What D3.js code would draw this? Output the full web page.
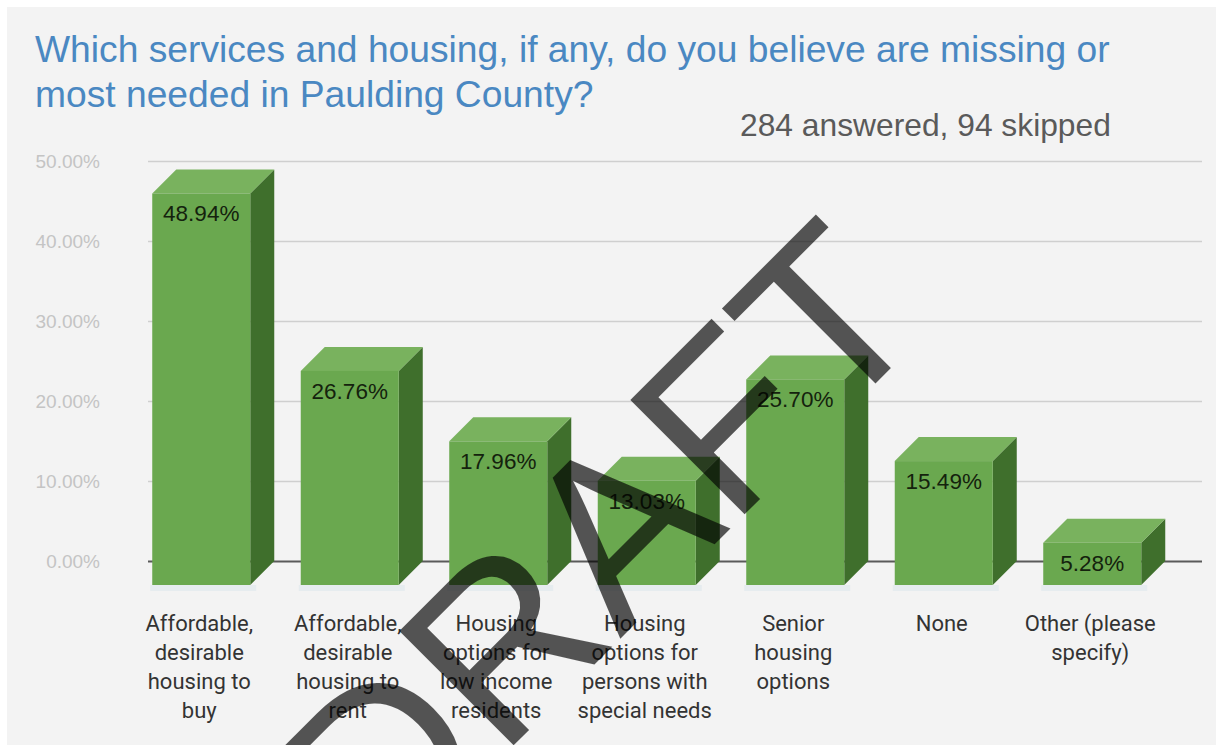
<!DOCTYPE html>
<html>
<head>
<meta charset="utf-8">
<script src="https://cdn.jsdelivr.net/npm/d3@7"></script>
<style>
  html, body { margin: 0; padding: 0; background: #ffffff; }
  svg { display: block; }
</style>
</head>
<body>
<svg id="chart" width="1216" height="745"></svg>
<script>
// ---- data ----
const categories = [
  "Affordable,\ndesirable\nhousing to\nbuy",
  "Affordable,\ndesirable\nhousing to\nrent",
  "Housing\noptions for\nlow income\nresidents",
  "Housing\noptions for\npersons with\nspecial needs",
  "Senior\nhousing\noptions",
  "None",
  "Other (please\nspecify)"
];
const values = [48.94, 26.76, 17.96, 13.03, 25.70, 15.49, 5.28];
const yTicks = [0, 10, 20, 30, 40, 50];
const titleLines = [
  "Which services and housing, if any, do you believe are missing or",
  "most needed in Paulding County?"
];
const subtitle = "284 answered, 94 skipped";
const watermark = "DRAFT";

// ---- layout ----
const svg = d3.select("#chart");
const W = 1216, H = 745;
const depthX = 24, depthY = 24;

svg.append("rect").attr("x", 0).attr("y", 0).attr("width", W).attr("height", H).attr("fill", "#ffffff");
svg.append("rect").attr("x", 7).attr("y", 7).attr("width", W - 7).attr("height", H - 7).attr("fill", "#f3f3f3");

const x = d3.scaleBand().domain(d3.range(categories.length))
  .range([151, 1190.5]).paddingInner(0.34).paddingOuter(0.17);
const y = d3.scaleLinear().domain([0, 50]).range([561, 161]);

// gridlines
const grid = svg.append("g").attr("transform", "translate(148,0)")
  .call(d3.axisLeft(y).tickValues(yTicks).tickSize(-(1202 - 148)).tickFormat(""));
grid.select(".domain").remove();
grid.selectAll(".tick line")
  .attr("stroke", d => d === 0 ? "#5a5a5a" : "#cfcfcf")
  .attr("stroke-width", d => d === 0 ? 2 : 1.5);

// y labels
const yAxis = svg.append("g").attr("transform", "translate(100,0)")
  .call(d3.axisLeft(y).tickValues(yTicks).tickSize(0).tickPadding(0).tickFormat(d => d.toFixed(2) + "%"));
yAxis.select(".domain").remove();
yAxis.selectAll("text")
  .attr("font-family", "'Liberation Sans', Arial, sans-serif")
  .attr("font-size", 19)
  .attr("fill", "#c4c4c4");

// bars
const bars = svg.append("g");
values.forEach((v, i) => {
  const bx = x(i), bw = x.bandwidth();
  const top = y(v), base = y(0);
  const fx = bx - depthX;
  // shadow
  bars.append("rect").attr("x", fx - 2).attr("y", base + depthY).attr("width", bw + 8).attr("height", 6)
    .attr("fill", "#e6ecef");
  // side face
  bars.append("path")
    .attr("d", `M${fx + bw},${top + depthY} L${bx + bw},${top} L${bx + bw},${base} L${fx + bw},${base + depthY} Z`)
    .attr("fill", "#3f6f2c");
  // top face
  bars.append("path")
    .attr("d", `M${fx},${top + depthY} L${bx},${top} L${bx + bw},${top} L${fx + bw},${top + depthY} Z`)
    .attr("fill", "#79b25e");
  // front face
  bars.append("rect").attr("x", fx).attr("y", top + depthY).attr("width", bw).attr("height", base - top)
    .attr("fill", "#6aa84f");
  // value label
  bars.append("text")
    .attr("x", fx + bw / 2).attr("y", top + depthY + 28)
    .attr("text-anchor", "middle")
    .attr("font-family", "'Liberation Sans', Arial, sans-serif")
    .attr("font-size", 22.5)
    .attr("fill", "#14220d")
    .text(v.toFixed(2) + "%");
  // category label
  const t = svg.append("text")
    .attr("text-anchor", "middle")
    .attr("font-family", "Roboto, 'Noto Sans', sans-serif")
    .attr("font-size", 22)
    .attr("fill", "#333333");
  categories[i].split("\n").forEach((ln, k) => {
    t.append("tspan").attr("x", fx + bw / 2 - 2).attr("y", 631 + k * 29).text(ln);
  });
});

// title
function fitText(sel, target) {
  const fs = +sel.attr("font-size");
  const len = sel.node().getComputedTextLength();
  sel.attr("font-size", fs * target / len);
}
const t1 = svg.append("text").attr("x", 35).attr("y", 62)
  .attr("font-family", "'Liberation Sans', Arial, sans-serif").attr("font-size", 29)
  .attr("fill", "#4a88c2").text(titleLines[0]);
fitText(t1, 1075);
const t2 = svg.append("text").attr("x", 35).attr("y", 107)
  .attr("font-family", "'Liberation Sans', Arial, sans-serif").attr("font-size", t1.attr("font-size"))
  .attr("fill", "#4a88c2").text(titleLines[1]);
const st = svg.append("text").attr("x", 740).attr("y", 136)
  .attr("font-family", "'Liberation Sans', Arial, sans-serif").attr("font-size", 27)
  .attr("fill", "#5a5a5a").text(subtitle);
fitText(st, 371);

// watermark
svg.append("text")
  .attr("transform", "translate(657,602) rotate(-45)")
  .attr("text-anchor", "middle")
  .attr("font-family", "'Liberation Sans', Arial, sans-serif")
  .attr("font-size", 235)
  .attr("fill", "#000000")
  .attr("fill-opacity", 0.66)
  .text(watermark);
</script>
</body>
</html>
